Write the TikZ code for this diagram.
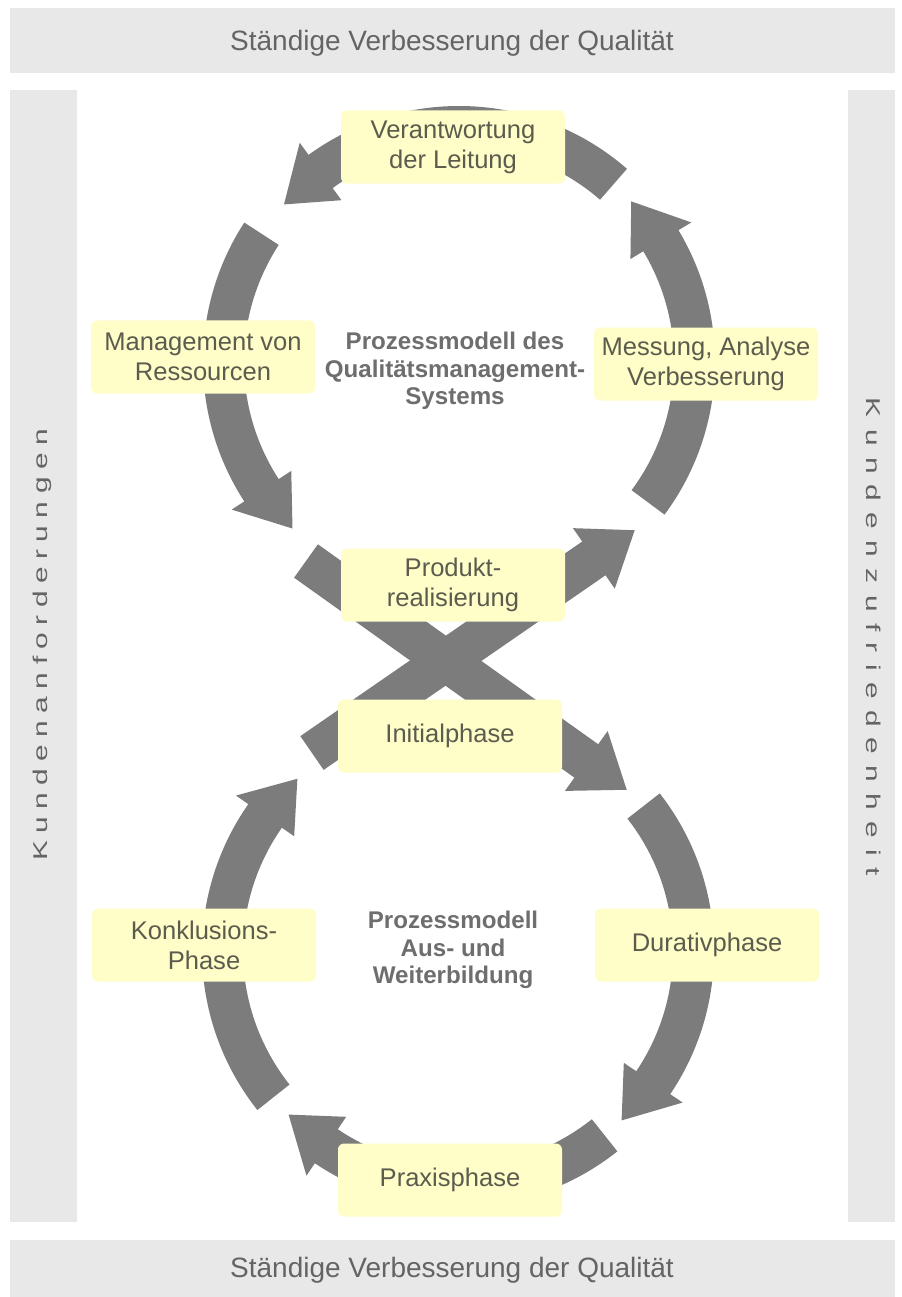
\documentclass[tikz,border=0pt]{standalone}
\usepackage{fontspec}
\setmainfont{Liberation Sans}
\usepackage{graphicx}
\usetikzlibrary{arrows.meta}

\definecolor{bandgray}{RGB}{232,232,232}
\definecolor{arrowgray}{RGB}{124,124,124}
\definecolor{boxyellow}{RGB}{255,253,200}
\definecolor{boxtext}{RGB}{92,92,78}
\definecolor{titlegray}{RGB}{110,110,110}
\definecolor{bandtextgray}{RGB}{100,100,100}

% radii of the two rings (in px of the picture)
\newcommand{\ringin}{215}
\newcommand{\ringout}{256}
\newcommand{\ringmid}{235.5}
\newcommand{\headin}{200}
\newcommand{\headout}{271}

% thick ring segment with a block head: centre, start angle, tip angle
\newcommand{\ringseg}[3]{%
  \pgfmathsetmacro{\headang}{(#3)-12*sign((#3)-(#2))}
  \fill[ring, shift={(#1)}] (#2:\ringout) arc[start angle=#2, end angle=\headang, radius=\ringout]
    -- (\headang:\headout) -- (#3:\ringmid) -- (\headang:\headin) -- (\headang:\ringin)
    arc[start angle=\headang, end angle=#2, radius=\ringin] -- cycle;}

\tikzset{
  phase/.style={fill=boxyellow, text=boxtext, rounded corners=0.18cm, minimum width=6.72cm,
    minimum height=2.19cm, align=center, inner sep=0pt,
    font=\fontsize{21.8}{25.6}\selectfont},
  title/.style={text=titlegray, align=center, font=\bfseries\fontsize{20.6}{23.5}\selectfont},
  band/.style={fill=bandgray},
  bandtext/.style={text=bandtextgray, font=\fontsize{23.9}{28}\selectfont},
  sidetext/.style={text=bandtextgray, inner sep=0pt, font=\fontsize{17}{20}\selectfont},
  ring/.style={fill=arrowgray},
  cross/.style={draw=arrowgray, line width=1.23cm, -{Triangle[width=2.1cm, length=1.5cm]}}
}

\begin{document}
\begin{tikzpicture}[x=0.03cm, y=0.03cm]
  \useasboundingbox (0,0) rectangle (901,-1297);
  \fill[white] (0,0) rectangle (901,-1297);

  % grey frame
  \fill[band] (10,-8) rectangle (895,-73);
  \fill[band] (10,-90) rectangle (77,-1222);
  \fill[band] (848,-90) rectangle (895,-1222);
  \fill[band] (10,-1240) rectangle (895,-1297);

  \node[bandtext] (topband) at (452,-43) {Ständige Verbesserung der Qualität};
  \node[bandtext] (bottomband) at (452,-1270) {Ständige Verbesserung der Qualität};
  \node[sidetext, rotate=90] (leftband) at (42,-645)
    {\scalebox{1.5}[1]{\addfontfeature{LetterSpace=25}Kundenanforderungen}};
  \node[sidetext, rotate=-90] (rightband) at (874,-637)
    {\scalebox{1.5}[1]{\addfontfeature{LetterSpace=38}Kundenzufriedenheit}};

  % ring centres
  \coordinate (uc) at (459,-362);
  \coordinate (lc) at (458,-951);

  % upper ring
  \ringseg{uc}{49}{138}
  \ringseg{uc}{147}{225}
  \ringseg{uc}{-36.6}{43}

  % lower ring
  \ringseg{lc}{38}{-46}
  \ringseg{lc}{-51.5}{-136}
  \ringseg{lc}{218.4}{133}

  % crossing
  \coordinate (atail) at (306,-561);
  \coordinate (ahead) at (627,-790);
  \coordinate (btail) at (312,-753);
  \coordinate (bhead) at (635,-530);
  \draw[cross] (atail) -- (ahead);
  \draw[cross] (btail) -- (bhead);

  % phases
  \node[phase] (leitung) at (453,-147) {Verantwortung\\der Leitung};
  \node[phase] (ressourcen) at (203,-357) {Management von\\Ressourcen};
  \node[phase] (messung) at (706,-364) {Messung, Analyse\\Verbesserung};
  \node[phase] (produkt) at (453,-585) {Produkt-\\realisierung};
  \node[phase] (initial) at (450,-736) {Initialphase};
  \node[phase] (konklusion) at (204,-945) {Konklusions-\\Phase};
  \node[phase] (durativ) at (707,-945) {Durativphase};
  \node[phase] (praxis) at (450,-1180) {Praxisphase};

  \node[title] (qmtitle) at (455,-371) {Prozessmodell des\\Qualitätsmanagement-\\Systems};
  \node[title] (awtitle) at (453,-950) {Prozessmodell\\Aus- und\\Weiterbildung};
\end{tikzpicture}
\end{document}
